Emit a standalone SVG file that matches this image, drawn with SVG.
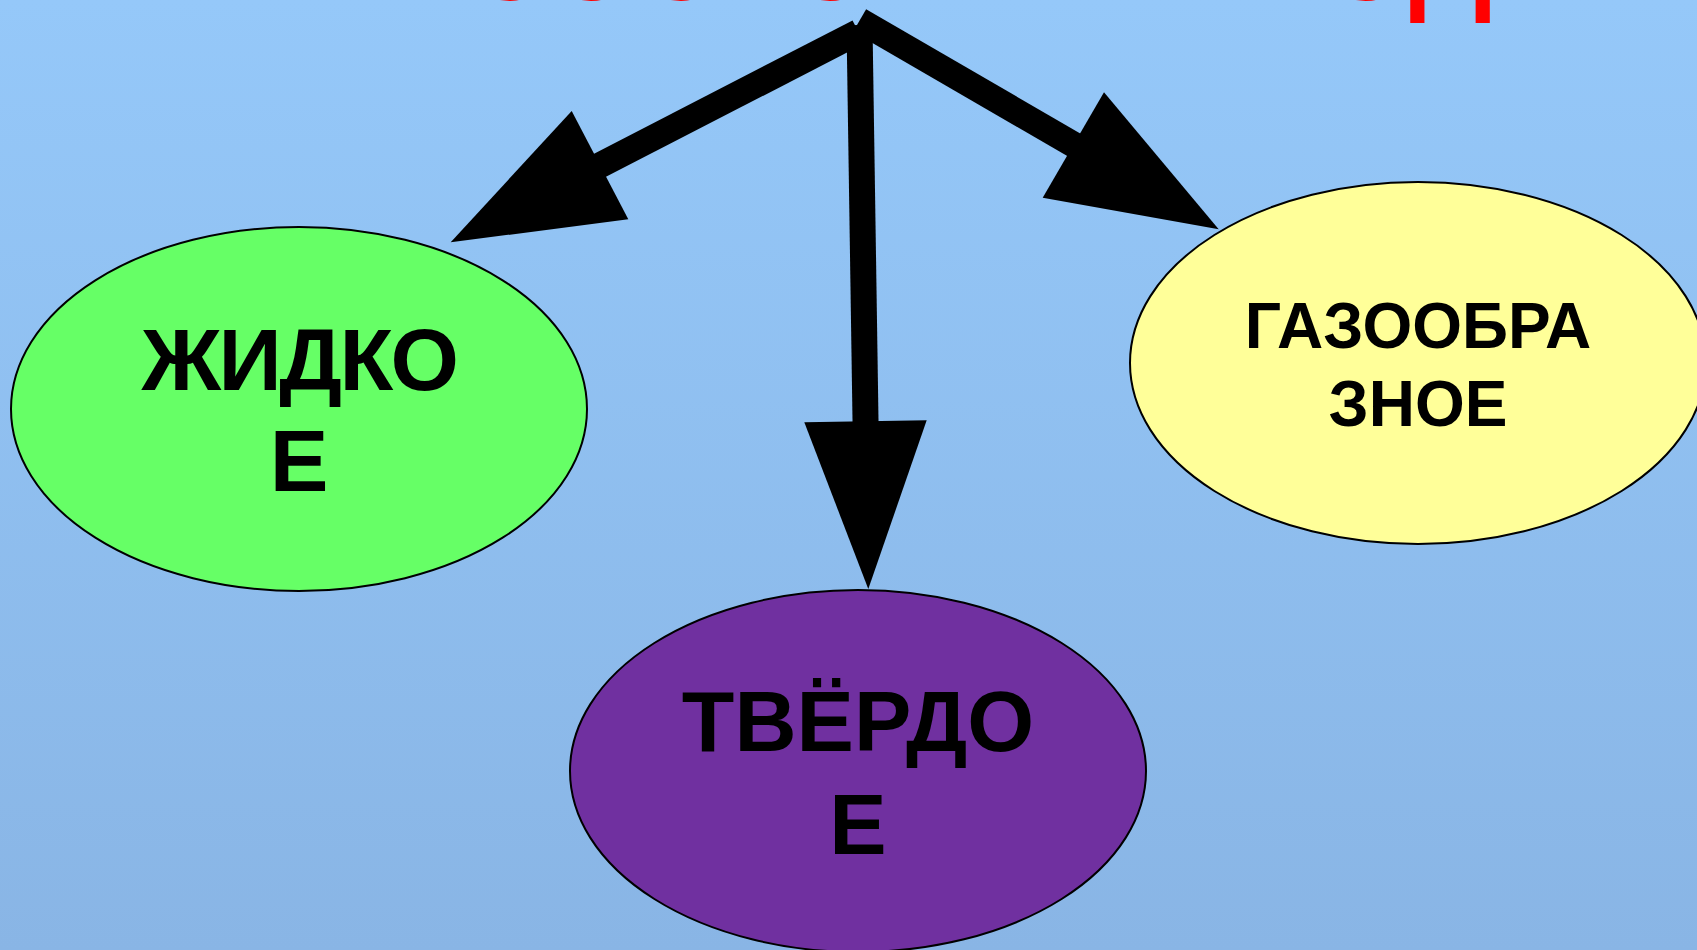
<svg xmlns="http://www.w3.org/2000/svg" width="1697" height="950" viewBox="0 0 1697 950">
<defs>
<linearGradient id="bg" x1="0" y1="0" x2="0" y2="1">
<stop offset="0" stop-color="#95C8F9"/>
<stop offset="1" stop-color="#89B5E5"/>
</linearGradient>
<style>
.node ellipse{stroke:#000;stroke-width:2}
.lbl{font-family:"Liberation Sans",Arial,sans-serif;font-weight:bold;fill:#000;text-anchor:middle}
.shaft{stroke:#000;stroke-width:26;stroke-linecap:butt;fill:none}
.head{fill:#000}
.title{font-family:"Liberation Sans",Arial,sans-serif;font-weight:bold;fill:#FF0000}
</style>
</defs>
<rect x="0" y="0" width="1697" height="950" fill="url(#bg)"/>
<text class="title" x="465" y="0" font-size="116">СОСТОЯНИЯ ВОДЫ</text>
<g id="connectors">
<line class="shaft" x1="858.5" y1="32" x2="585" y2="173"/>
<polygon class="head" points="571.7,111 628.3,219.3 450.7,242.3"/>
<line class="shaft" x1="859.5" y1="25" x2="865.8" y2="440"/>
<polygon class="head" points="804.3,422.3 926.7,420.3 868.3,589"/>
<line class="shaft" x1="859.6" y1="20.4" x2="1088" y2="153"/>
<polygon class="head" points="1104,92.3 1042.7,197.7 1218.7,229.3"/>
</g>
<g id="liquid" class="node">
<ellipse cx="299" cy="409" rx="288" ry="182" fill="#66FF66"/>
<text class="lbl" x="299" y="390" font-size="88" letter-spacing="-2.5">ЖИДКО</text>
<text class="lbl" x="299" y="491" font-size="88">Е</text>
</g>
<g id="solid" class="node">
<ellipse cx="858" cy="771" rx="288" ry="181" fill="#7030A0"/>
<text class="lbl" x="858" y="751" font-size="86">ТВЁРДО</text>
<text class="lbl" x="858" y="854" font-size="86">Е</text>
</g>
<g id="gas" class="node">
<ellipse cx="1418" cy="363" rx="288" ry="181" fill="#FFFF99"/>
<text class="lbl" x="1418" y="348" font-size="64">ГАЗООБРА</text>
<text class="lbl" x="1418" y="426" font-size="64">ЗНОЕ</text>
</g>
</svg>
